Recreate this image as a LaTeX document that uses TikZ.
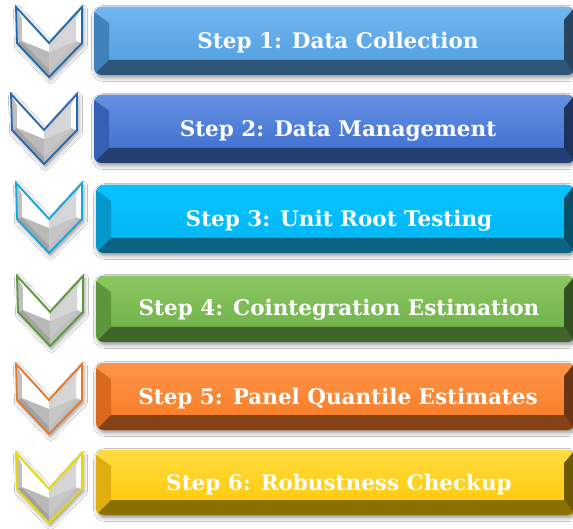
\documentclass[tikz,border=0pt]{standalone}
\usepackage{fontspec}
\setmainfont{DejaVu Serif}
\usepackage{tikz}
\usetikzlibrary{shadows.blur}

% colours of the six steps: front top, front bottom, side, bottom face, chevron rim
\definecolor{oneTop}{HTML}{72B6F0}\definecolor{oneMain}{HTML}{4E9CDD}
\definecolor{oneSide}{HTML}{3F82BC}\definecolor{oneBase}{HTML}{2E5678}\definecolor{oneRim}{HTML}{1E6AAE}
\definecolor{twoTop}{HTML}{6490E2}\definecolor{twoMain}{HTML}{3C6CCD}
\definecolor{twoSide}{HTML}{3461B4}\definecolor{twoBase}{HTML}{243F73}\definecolor{twoRim}{HTML}{2A68AE}
\definecolor{threeTop}{HTML}{08C3FF}\definecolor{threeMain}{HTML}{00B4F2}
\definecolor{threeSide}{HTML}{0598CC}\definecolor{threeBase}{HTML}{0B6283}\definecolor{threeRim}{HTML}{12A6DE}
\definecolor{fourTop}{HTML}{8CC862}\definecolor{fourMain}{HTML}{6AAE45}
\definecolor{fourSide}{HTML}{5C973C}\definecolor{fourBase}{HTML}{3F652A}\definecolor{fourRim}{HTML}{5A993A}
\definecolor{fiveTop}{HTML}{FF9448}\definecolor{fiveMain}{HTML}{F57A22}
\definecolor{fiveSide}{HTML}{D86A1E}\definecolor{fiveBase}{HTML}{854216}\definecolor{fiveRim}{HTML}{E07A30}
\definecolor{sixTop}{HTML}{FFDC40}\definecolor{sixMain}{HTML}{FFC600}
\definecolor{sixSide}{HTML}{E0AE10}\definecolor{sixBase}{HTML}{8A7000}\definecolor{sixRim}{HTML}{E6DC00}

\tikzset{
  boxshadow/.style={blur shadow={shadow blur steps=6, shadow xshift=1.5pt,
      shadow yshift=-2.5pt, shadow blur radius=4pt, shadow opacity=45}},
  steptext/.style={text=white, font=\bfseries\fontsize{21.5}{24}\selectfont},
  rim/.style={line width=1.8pt, line join=miter}
}

% #1 = left x, #2 = top y, #3 = colour prefix
\newcommand{\chevronmark}[3]{%
  \begin{scope}[shift={(#1,#2)}]
    \fill[white, boxshadow] (0,0) -- (1,36) -- (33,70) -- (66,36) -- (66,0) -- (33,36) -- cycle;
    % bevel faces
    \fill[white]   (0,0) -- (33,36) -- (33,45) -- (6,12) -- cycle;
    \fill[gray!50] (0,0) -- (6,12) -- (6,34) -- (1,36) -- cycle;
    \fill[gray!72] (1,36) -- (6,34) -- (33,62) -- (33,70) -- cycle;
    \fill[gray!50] (33,70) -- (33,62) -- (60,34) -- (66,36) -- cycle;
    \fill[white]   (66,36) -- (60,34) -- (60,12) -- (66,0) -- cycle;
    \fill[gray!35] (66,0) -- (60,12) -- (33,45) -- (33,36) -- cycle;
    % front faces
    \fill[white]   (6,12) -- (33,45) -- (6,34) -- cycle;
    \fill[gray!55] (6,34) -- (33,45) -- (33,62) -- cycle;
    \fill[gray!32] (33,45) -- (60,12) -- (60,34) -- cycle;
    \fill[gray!45] (33,45) -- (60,34) -- (33,62) -- cycle;
    \draw[rim, #3Rim] (0,0) -- (1,36) -- (33,70) -- (66,36) -- (66,0) -- (33,36) -- cycle;
  \end{scope}}

% #1 = left x, #2 = top y, #3 = bottom y, #4 = colour prefix
\newcommand{\bevelbox}[4]{%
  \fill[#4Base, rounded corners=8, boxshadow] (#1,#2) rectangle (575,#3);
  \begin{scope}
    \clip[rounded corners=8] (#1,#2) rectangle (575,#3);
    \shade[top color=#4Top, bottom color=#4Main] (#1,#2) rectangle (575,#3);
    \fill[#4Side] (#1,#2+5) -- (#1+15,#2+16) -- (#1+15,#3-15) -- (#1,#3) -- cycle;
    \fill[#4Base!80!black] (575,#2) -- (564,#2+13) -- (564,#3-15) -- (575,#3) -- cycle;
    \fill[#4Base] (#1,#3) -- (#1+15,#3-15) -- (564,#3-15) -- (575,#3) -- cycle;
  \end{scope}}

\begin{document}
\begin{tikzpicture}[x=1pt, y=-1pt]
  \useasboundingbox[fill=white] (0,0) rectangle (573,529);

  \chevronmark{16}{7}{one}
  \bevelbox{94}{7}{75}{one}
  \node[steptext] (s1) at (338,43) {Step 1: Data Collection};

  \chevronmark{11}{94}{two}
  \bevelbox{94}{95}{163}{two}
  \node[steptext] (s2) at (338,131) {Step 2: Data Management};

  \chevronmark{16}{183}{three}
  \bevelbox{96}{185}{253}{three}
  \node[steptext] (s3) at (339,221) {Step 3: Unit Root Testing};

  \chevronmark{17}{276}{four}
  \bevelbox{96}{276}{342}{four}
  \node[steptext] (s4) at (339,310) {Step 4: Cointegration Estimation};

  \chevronmark{16}{364}{five}
  \bevelbox{96}{363}{430}{five}
  \node[steptext] (s5) at (338,399) {Step 5: Panel Quantile Estimates};

  \chevronmark{16}{453}{six}
  \bevelbox{96}{450}{515}{six}
  \node[steptext] (s6) at (339,485) {Step 6: Robustness Checkup};
\end{tikzpicture}
\end{document}
